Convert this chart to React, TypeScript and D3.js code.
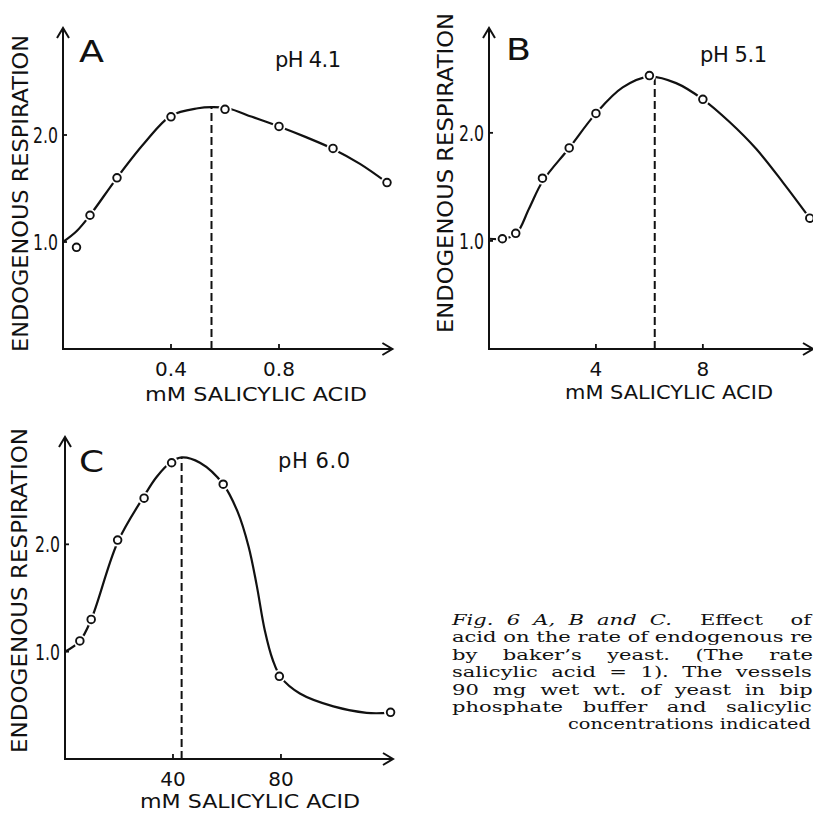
import React, { useEffect, useRef } from "react";
import * as d3 from "d3";

// ---------- DATA ----------
// Panel A (pH 4.1)
const aPointsX = [0.05, 0.1, 0.2, 0.4, 0.6, 0.8, 1.0, 1.2];
const aPointsY = [0.95, 1.25, 1.6, 2.17, 2.24, 2.08, 1.875, 1.555];
const aCurveX = [0, 0.05, 0.1, 0.2, 0.3, 0.4, 0.5, 0.55, 0.61, 0.7, 0.8, 0.9, 1.0, 1.1, 1.2];
const aCurveY = [1.0, 1.1, 1.25, 1.6, 1.92, 2.18, 2.25, 2.26, 2.25, 2.17, 2.08, 1.98, 1.87, 1.73, 1.555];
const aOptimum = [0.55, 2.26];
const aXTicks = [0.4, 0.8];
const aXTickLabels = ["0.4", "0.8"];

// Panel B (pH 5.1)
const bPointsX = [0.5, 1, 2, 3, 4, 6, 8, 12];
const bPointsY = [1.02, 1.07, 1.58, 1.86, 2.18, 2.53, 2.31, 1.21];
const bCurveX = [0, 0.5, 1, 1.5, 2, 3, 4, 5, 6, 7, 8, 9, 10, 11, 12];
const bCurveY = [1.02, 1.02, 1.06, 1.3, 1.55, 1.86, 2.18, 2.42, 2.52, 2.46, 2.31, 2.1, 1.85, 1.54, 1.21];
const bOptimum = [6.2, 2.52];
const bXTicks = [4, 8];
const bXTickLabels = ["4", "8"];

// Panel C (pH 6.0)
const cPointsX = [5.5, 9.7, 19.5, 29.3, 39.5, 58.6, 79.4, 120.6];
const cPointsY = [1.1, 1.3, 2.04, 2.43, 2.76, 2.56, 0.77, 0.435];
const cCurveX = [0, 5.5, 9.7, 19.5, 29.3, 34, 39.5, 43.2, 50, 58.6, 64, 68, 71, 74, 77, 80, 87, 99.4, 111.7, 120];
const cCurveY = [1.0, 1.1, 1.3, 2.02, 2.45, 2.63, 2.77, 2.81, 2.76, 2.56, 2.3, 1.98, 1.62, 1.2, 0.92, 0.76, 0.61, 0.49, 0.43, 0.43];
const cOptimum = [43.2, 2.81];
const cXTicks = [40, 80];
const cXTickLabels = ["40", "80"];

const yTicks = [1.0, 2.0];
const yTickLabels = ["1.0", "2.0"];

const yAxisTitle = "ENDOGENOUS RESPIRATION";
const xAxisTitle = "mM SALICYLIC ACID";

const captionLines = [
  "acid on the rate of endogenous re",
  "by baker\u2019s yeast. (The rate",
  "salicylic acid = 1). The vessels",
  "90 mg wet wt. of yeast in bip",
  "phosphate buffer and salicylic",
  "concentrations indicated",
];

// ---------- LAYOUT ----------
const panels = [
  {
    letter: "A", ph: "pH 4.1",
    px: aPointsX, py: aPointsY, cx: aCurveX, cy: aCurveY, opt: aOptimum,
    xt: aXTicks, xtl: aXTickLabels,
    xDom: 1.22, xR: [63, 392.4], yDom: 3.0, yR: [349, 28],
    letterPos: [79, 62], phPos: [275, 67, 66],
    yTitle: [28, 193.5, 317], xTitle: [256, 401, 222],
  },
  {
    letter: "B", ph: "pH 5.1",
    px: bPointsX, py: bPointsY, cx: bCurveX, cy: bCurveY, opt: bOptimum,
    xt: bXTicks, xtl: bXTickLabels,
    xDom: 12.12, xR: [489, 813], yDom: 2.97, yR: [349, 28],
    letterPos: [506, 60], phPos: [700, 62, 67],
    yTitle: [453, 173, 320], xTitle: [669, 399, 208],
  },
  {
    letter: "C", ph: "pH 6.0",
    px: cPointsX, py: cPointsY, cx: cCurveX, cy: cCurveY, opt: cOptimum,
    xt: cXTicks, xtl: cXTickLabels,
    xDom: 121.5, xR: [65, 393], yDom: 3.0, yR: [759, 437],
    letterPos: [79, 472], phPos: [278, 468, 72],
    yTitle: [27, 590.5, 325], xTitle: [250, 808, 220],
  },
];

const INK = "#111";
const SANS = "'DejaVu Sans', sans-serif";
const SERIF = "'DejaVu Serif', serif";

function Panel({ p }: { p: any }) {
  const x = d3.scaleLinear().domain([0, p.xDom]).range(p.xR);
  const y = d3.scaleLinear().domain([0, p.yDom]).range(p.yR);
  const curvePts = p.cx.map((v: number, i: number) => [v, p.cy[i]]);
  const line = d3
    .line<number[]>()
    .x((d) => x(d[0]))
    .y((d) => y(d[1]))
    .curve(d3.curveCatmullRom.alpha(0.5));
  const x0 = x(0);
  const y0 = y(0);
  const xEnd = x(p.xDom);
  const yTop = y(p.yDom);
  return (
    <g>
      <line x1={x0} y1={y0 + 1} x2={x0} y2={yTop} stroke={INK} strokeWidth={2} />
      <line x1={x0 - 1} y1={y0} x2={xEnd} y2={y0} stroke={INK} strokeWidth={2} />
      <path d={`M${x0 - 6},${yTop + 10} L${x0},${yTop} L${x0 + 6},${yTop + 10}`} fill="none" stroke={INK} strokeWidth={2} />
      <path d={`M${xEnd - 10},${y0 - 6} L${xEnd},${y0} L${xEnd - 10},${y0 + 6}`} fill="none" stroke={INK} strokeWidth={2} />
      {yTicks.map((t, i) => (
        <g key={"yt" + i}>
          <line x1={x0} x2={x0 + 4} y1={y(t)} y2={y(t)} stroke={INK} strokeWidth={1.8} />
          <text x={x0 - 5} y={y(t) + 8} textAnchor="end" fontFamily={SANS} fontSize={21} fill={INK} textLength={25} lengthAdjust="spacingAndGlyphs">
            {yTickLabels[i]}
          </text>
        </g>
      ))}
      {p.xt.map((t: number, i: number) => (
        <g key={"xt" + i}>
          <line x1={x(t)} x2={x(t)} y1={y0} y2={y0 - 5} stroke={INK} strokeWidth={1.8} />
          <text x={x(t)} y={y0 + 27} textAnchor="middle" fontFamily={SANS} fontSize={20} fill={INK}>
            {p.xtl[i]}
          </text>
        </g>
      ))}
      <line x1={x(p.opt[0])} x2={x(p.opt[0])} y1={y0} y2={y(p.opt[1])} stroke={INK} strokeWidth={2} strokeDasharray="8,4" />
      <path d={line(curvePts) || ""} fill="none" stroke={INK} strokeWidth={2.2} />
      {p.px.map((v: number, i: number) => (
        <circle key={"h" + i} cx={x(v)} cy={y(p.py[i])} r={6.5} fill="#fff" />
      ))}
      {p.px.map((v: number, i: number) => (
        <circle key={"c" + i} cx={x(v)} cy={y(p.py[i])} r={3.8} fill="#fff" stroke={INK} strokeWidth={1.9} />
      ))}
      <text x={p.letterPos[0]} y={p.letterPos[1]} fontFamily={SANS} fontSize={30} fill={INK} textLength={25} lengthAdjust="spacingAndGlyphs">
        {p.letter}
      </text>
      <text x={p.phPos[0]} y={p.phPos[1]} fontFamily={SANS} fontSize={21} fill={INK} textLength={p.phPos[2]} lengthAdjust="spacing">
        {p.ph}
      </text>
      <text
        transform={`translate(${p.yTitle[0]},${p.yTitle[1]}) rotate(-90)`}
        textAnchor="middle" fontFamily={SANS} fontSize={20.5} fill={INK}
        textLength={p.yTitle[2]} lengthAdjust="spacingAndGlyphs"
      >
        {yAxisTitle}
      </text>
      <text
        x={p.xTitle[0]} y={p.xTitle[1]} textAnchor="middle" fontFamily={SANS} fontSize={20} fill={INK}
        textLength={p.xTitle[2]} lengthAdjust="spacingAndGlyphs"
      >
        {xAxisTitle}
      </text>
    </g>
  );
}

const captionStarts = [452, 452, 452, 452, 452, 568];
const captionEnds = [813, 813, 812, 813, 812, 811];

export default function App() {
  const capRef = useRef<SVGGElement | null>(null);
  useEffect(() => {
    const g = capRef.current;
    if (!g) return;
    const texts = Array.from(g.querySelectorAll("text[data-w]")) as any[];
    texts.forEach((el) => {
      el.style.wordSpacing = "0px";
      el.removeAttribute("transform");
    });
    // horizontal glyph scale taken from the tightest (reference) line
    const refEl = g.querySelector("text[data-ref]") as any;
    const refNat = refEl.getComputedTextLength();
    const s = parseFloat(refEl.getAttribute("data-w")) / refNat;
    texts.forEach((el) => {
      const target = parseFloat(el.getAttribute("data-w"));
      const x0 = parseFloat(el.getAttribute("x"));
      const natural = el.getComputedTextLength();
      const spaces = (el.textContent.match(/ /g) || []).length;
      let sc = s;
      if (spaces > 0) {
        const ws = (target / s - natural) / spaces;
        if (ws >= 0) el.style.wordSpacing = `${ws}px`;
        else sc = target / natural;
      }
      el.setAttribute("transform", `translate(${x0 * (1 - sc)},0) scale(${sc},1)`);
    });
  }, []);
  return (
    <svg
      width={813}
      height={814}
      viewBox="0 0 813 814"
      style={{ position: "absolute", left: 0, top: 0, background: "#fff" }}
    >
      <rect x={0} y={0} width={813} height={814} fill="#fff" />
      {panels.map((p, i) => (
        <Panel key={i} p={p} />
      ))}
      <g ref={capRef} fontFamily={SERIF} fontSize={15} fill={INK}>
        <text x={452} y={625} fontStyle="italic" data-w={220}>
          Fig. 6 A, B and C.
        </text>
        <text x={700} y={625} data-w={111}>
          Effect of
        </text>
        {captionLines.map((s, i) => (
          <text
            key={i}
            x={captionStarts[i]}
            y={642.4 + i * 17.4}
            data-w={captionEnds[i] - captionStarts[i]}
            {...(i === 0 ? { "data-ref": "1" } : {})}
          >
            {s}
          </text>
        ))}
      </g>
    </svg>
  );
}
